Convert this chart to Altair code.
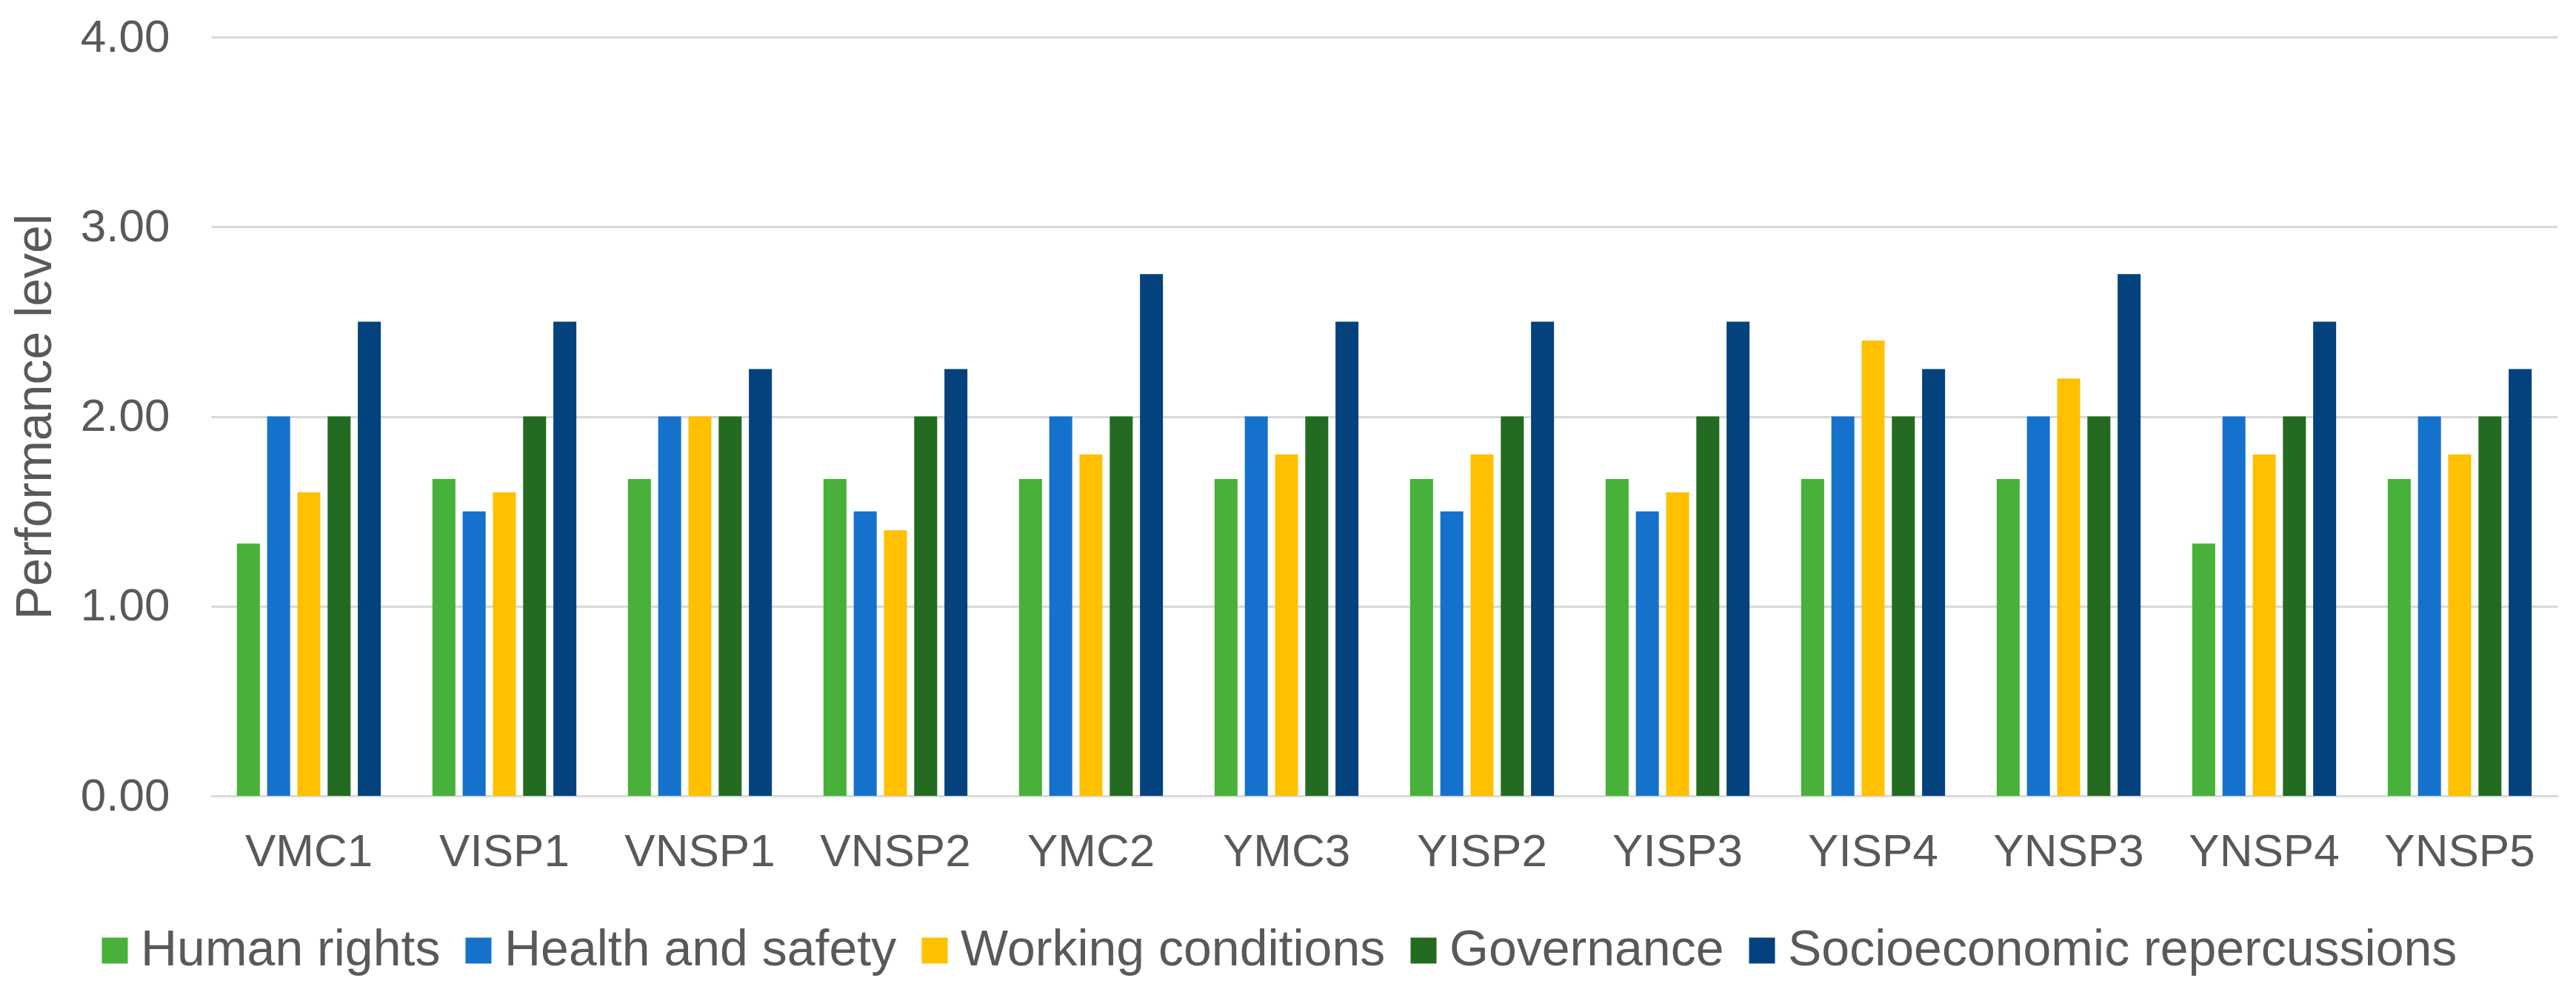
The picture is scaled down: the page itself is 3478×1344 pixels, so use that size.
import altair as alt
import pandas as pd

sites = ["VMC1", "VISP1", "VNSP1", "VNSP2", "YMC2", "YMC3",
         "YISP2", "YISP3", "YISP4", "YNSP3", "YNSP4", "YNSP5"]
categories = ["Human rights", "Health and safety", "Working conditions",
              "Governance", "Socioeconomic repercussions"]
human_rights = [1.33, 1.67, 1.67, 1.67, 1.67, 1.67, 1.67, 1.67, 1.67, 1.67, 1.33, 1.67]
health_safety = [2.00, 1.50, 2.00, 1.50, 2.00, 2.00, 1.50, 1.50, 2.00, 2.00, 2.00, 2.00]
working_conditions = [1.60, 1.60, 2.00, 1.40, 1.80, 1.80, 1.80, 1.60, 2.40, 2.20, 1.80, 1.80]
governance = [2.00, 2.00, 2.00, 2.00, 2.00, 2.00, 2.00, 2.00, 2.00, 2.00, 2.00, 2.00]
socioeconomic = [2.50, 2.50, 2.25, 2.25, 2.75, 2.50, 2.50, 2.50, 2.25, 2.75, 2.50, 2.25]
colors = ["#47B139", "#1572CC", "#FFC000", "#236B20", "#03427D"]
y_ticks = [0, 1, 2, 3, 4]

series = [human_rights, health_safety, working_conditions, governance, socioeconomic]
rows = []
for cat, vals in zip(categories, series):
    for s, v in zip(sites, vals):
        rows.append({"site": s, "category": cat, "value": v})
df = pd.DataFrame(rows)

FONT = "Liberation Sans"
TXT = "#595959"
GRID = "#D9D9D9"

chart = alt.Chart(df).mark_bar().encode(
    x=alt.X("site:N", sort=sites,
            scale=alt.Scale(paddingInner=0.23, paddingOuter=0.115),
            axis=alt.Axis(title=None, labelAngle=0, labelFontSize=62,
                          labelColor=TXT, labelFont=FONT, ticks=False,
                          domainColor=GRID, domainWidth=3, labelPadding=45,
                          labelLimit=1000, grid=False)),
    xOffset=alt.XOffset("category:N", sort=categories,
                        scale=alt.Scale(paddingInner=0.24, paddingOuter=0.11)),
    y=alt.Y("value:Q", scale=alt.Scale(domain=[0, 4], nice=False),
            axis=alt.Axis(title="Performance level", values=y_ticks, format=".2f",
                          labelFontSize=62, labelColor=TXT, labelFont=FONT,
                          titleFontSize=68, titleColor=TXT, titleFont=FONT,
                          titleFontWeight="normal", titlePadding=26,
                          ticks=False, domain=False, labelPadding=56,
                          gridColor=GRID, gridWidth=3)),
    color=alt.Color("category:N", sort=categories,
                    scale=alt.Scale(domain=categories, range=colors),
                    legend=alt.Legend(title=None, orient="none", direction="horizontal",
                                      legendX=-164, legendY=1200,
                                      labelFontSize=68, labelColor=TXT, labelFont=FONT,
                                      symbolType="square", symbolSize=1225,
                                      symbolStrokeWidth=0, labelOffset=1,
                                      columnPadding=17, labelLimit=2000)),
).properties(
    width=3168, height=1025,
    autosize=alt.AutoSizeParams(type="none"),
    padding={"left": 277, "top": 42, "right": 17, "bottom": 261},
).configure(background="white").configure_view(stroke=None)

chart.save("out.html", embed_options={"renderer": "svg", "actions": False})
